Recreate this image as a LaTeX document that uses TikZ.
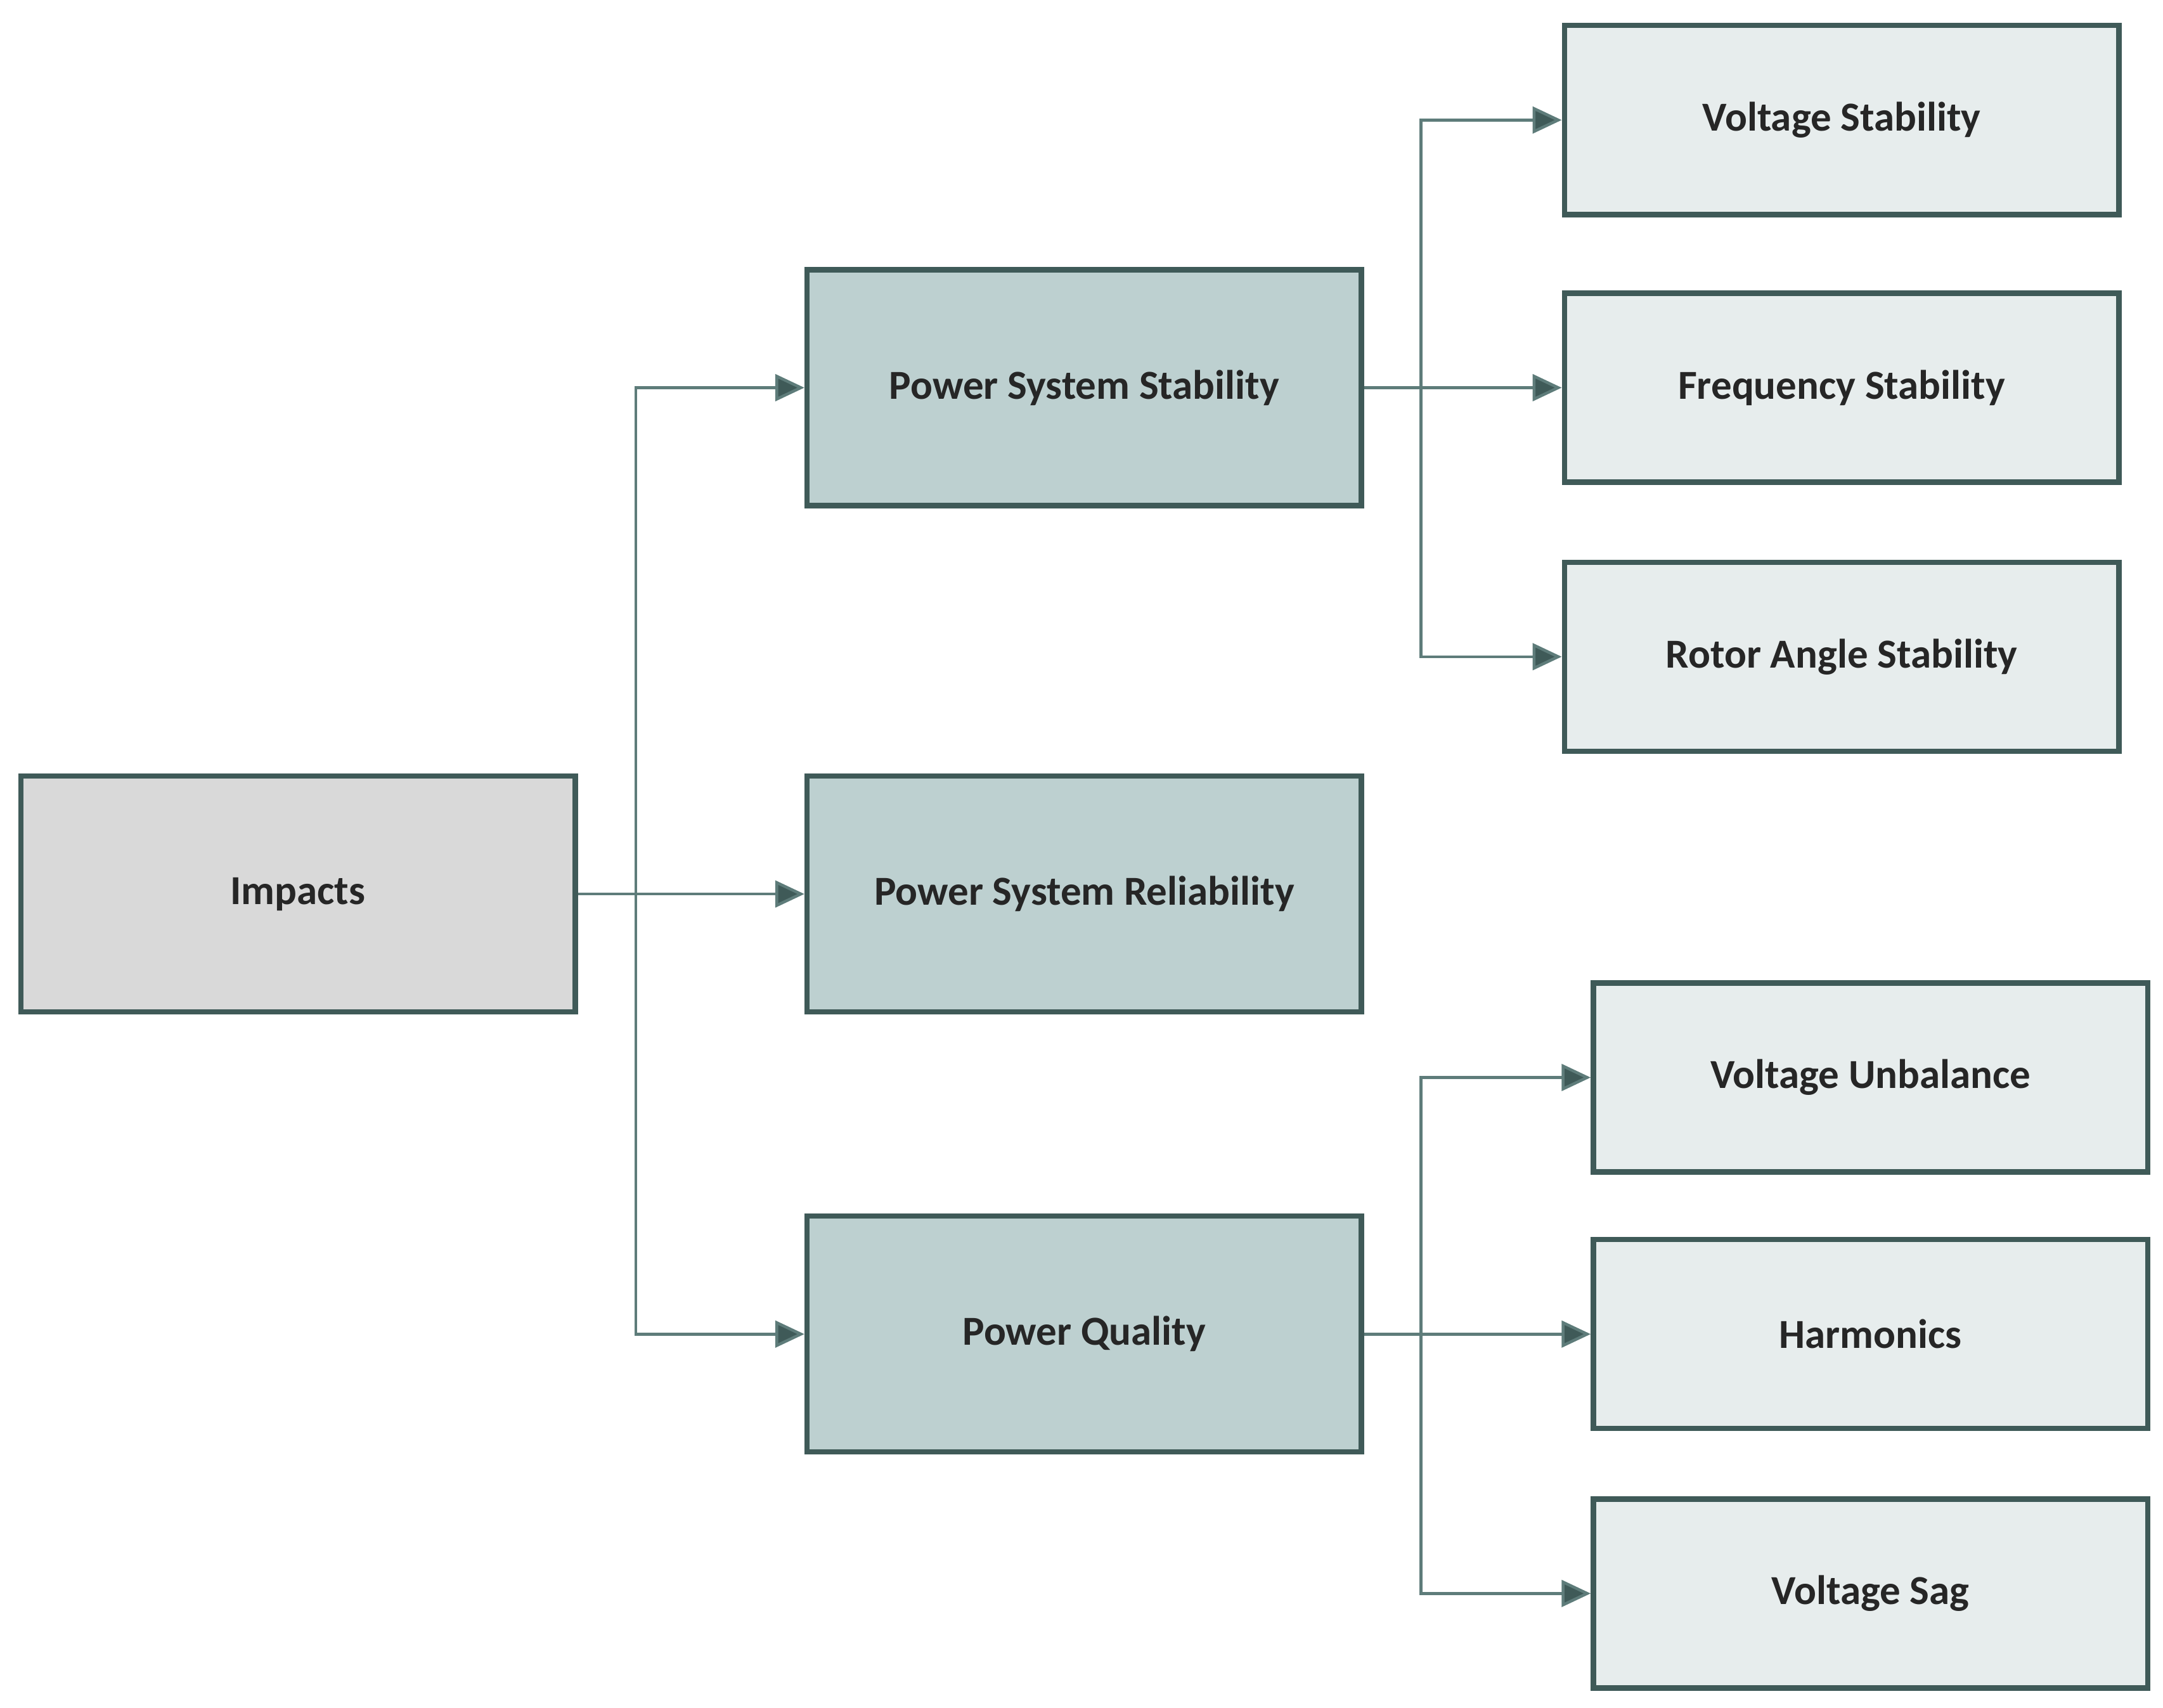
\documentclass[tikz,border=0pt]{standalone}
\usepackage{fontspec}
\setmainfont{Carlito}
\usetikzlibrary{arrows.meta}
\definecolor{bd}{HTML}{3F5A58}
\definecolor{ln}{HTML}{5E7C7A}
\definecolor{c0}{HTML}{D9D9D9}
\definecolor{c1}{HTML}{BDD0D0}
\definecolor{c2}{HTML}{E7EDED}
\begin{document}
\begin{tikzpicture}[x=0.02cm,y=-0.02cm,
 box/.style={draw=bd,line width=2.2pt,minimum width=8.04cm,minimum height=3.42cm,inner sep=0pt,font=\fontsize{17}{20}\selectfont\bfseries,text=black!85},
 sbox/.style={box,minimum height=2.74cm,fill=c2},
 arr/.style={draw=ln,line width=1.2pt,-{Triangle[length=12pt,width=11pt,fill=bd]}}]
\useasboundingbox (0,0) rectangle (1568,1238);
\node[box,fill=c0] (imp) at (216,648) {Impacts};
\node[box,fill=c1] (pss) at (786,281) {Power System Stability};
\node[box,fill=c1] (psr) at (786,648) {Power System Reliability};
\node[box,fill=c1] (pq) at (786,967) {Power Quality};
\node[sbox] (vs) at (1335,87) {Voltage Stability};
\node[sbox] (fs) at (1335,281) {Frequency Stability};
\node[sbox] (ras) at (1335,476) {Rotor Angle Stability};
\node[sbox] (vu) at (1356,781) {Voltage Unbalance};
\node[sbox] (h) at (1356,967) {Harmonics};
\node[sbox] (vsg) at (1356,1155) {Voltage Sag};
\coordinate (t1) at (461,648);
\coordinate (t2) at (1030,281);
\coordinate (t3) at (1030,967);
\draw[arr] (imp.east) -- (psr.west);
\draw[arr] (t1) |- (pss.west);
\draw[arr] (t1) |- (pq.west);
\draw[arr] (pss.east) -- (fs.west);
\draw[arr] (t2) |- (vs.west);
\draw[arr] (t2) |- (ras.west);
\draw[arr] (pq.east) -- (h.west);
\draw[arr] (t3) |- (vu.west);
\draw[arr] (t3) |- (vsg.west);
\end{tikzpicture}
\end{document}
